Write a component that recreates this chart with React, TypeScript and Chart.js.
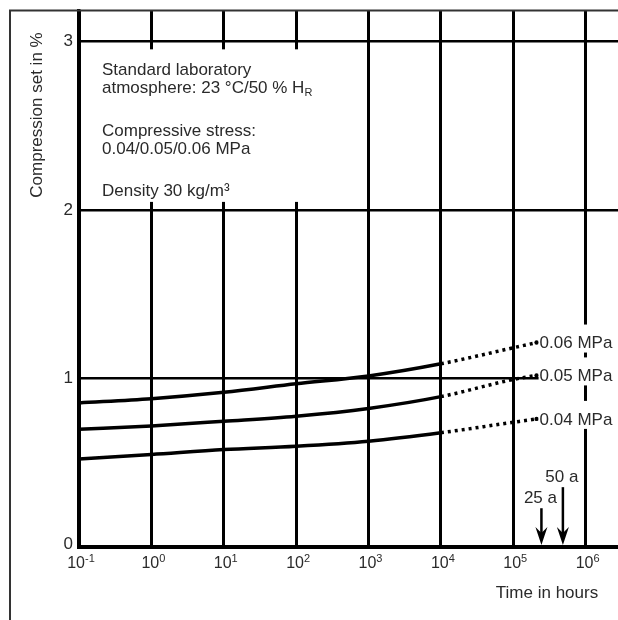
import React, { useEffect, useRef } from 'react';
import { Chart, registerables } from 'chart.js';

Chart.register(...registerables);

// ---- data ----
const hours = [0.1, 1, 10, 100, 1000, 10000, 100000, 210000];
const set006 = [0.855, 0.88, 0.918, 0.968, 1.015, 1.087, 1.182, 1.213];
const set005 = [0.698, 0.718, 0.746, 0.776, 0.822, 0.892, 0.994, 1.018];
const set004 = [0.522, 0.549, 0.578, 0.598, 0.628, 0.678, 0.74, 0.76];
const seriesLabels = ['0.06 MPa', '0.05 MPa', '0.04 MPa'];
const solidUntilHours = 10000;

const xTickValues = [0.1, 1, 10, 100, 1000, 10000, 100000, 1000000];
const xTickExponents = ['-1', '0', '1', '2', '3', '4', '5', '6'];
const yTickValues = [0, 1, 2, 3];
const yTickLabels = ['0', '1', '2', '3'];

const arrowLabels = ['25 a', '50 a'];
const arrowHours = [245000, 485000];
const arrowTops = [0.23, 0.355];

const infoLines = [
  'Standard laboratory',
  'atmosphere: 23 °C/50 % H',
  'Compressive stress:',
  '0.04/0.05/0.06 MPa',
  'Density 30 kg/m³',
];
const infoSubscript = 'R';
const yTitle = 'Compression set in %';
const xTitle = 'Time in hours';

const FONT = '"Liberation Sans", Arial, Helvetica, sans-serif';
const TEXT = '#2a2a2a';
const VIEW_W = 618;

const overlay = {
  id: 'overlay',
  afterDraw(chart: any) {
    const ctx: CanvasRenderingContext2D = chart.ctx;
    const xs = chart.scales.x;
    const ys = chart.scales.y;
    const area = chart.chartArea;
    ctx.save();

    // outer frame
    ctx.strokeStyle = '#333';
    ctx.lineWidth = 2;
    ctx.beginPath();
    ctx.moveTo(10, chart.height);
    ctx.lineTo(10, area.top - 0.5);
    ctx.lineTo(chart.width, area.top - 0.5);
    ctx.stroke();

    // info box (white background hiding the grid)
    const boxTop = ys.getPixelForValue(3) + 8;
    const boxBottom = ys.getPixelForValue(2) - 8;
    ctx.fillStyle = '#fff';
    ctx.fillRect(area.left + 2, boxTop, 262, boxBottom - boxTop);

    ctx.fillStyle = TEXT;
    ctx.textAlign = 'left';
    ctx.textBaseline = 'middle';
    const infoY = [70, 88, 131, 149, 191];
    const ix = area.left + 23;
    infoLines.forEach((t, i) => {
      ctx.font = `17px ${FONT}`;
      ctx.fillText(t, ix, infoY[i]);
      if (i === 1) {
        const w = ctx.measureText(t).width;
        ctx.font = `11px ${FONT}`;
        ctx.fillText(infoSubscript, ix + w, infoY[i] + 5);
      }
    });

    // y tick labels
    ctx.font = `17px ${FONT}`;
    ctx.textAlign = 'right';
    ctx.textBaseline = 'middle';
    yTickValues.forEach((v, i) => {
      const py = ys.getPixelForValue(v) - (v === 0 ? 3 : 0);
      ctx.fillText(yTickLabels[i], area.left - 6, py);
    });

    // x tick labels with superscript exponents
    ctx.textBaseline = 'alphabetic';
    ctx.textAlign = 'left';
    xTickValues.forEach((v, i) => {
      const px = xs.getPixelForValue(v);
      ctx.font = `16px ${FONT}`;
      const wBase = ctx.measureText('10').width;
      ctx.font = `11px ${FONT}`;
      const wExp = ctx.measureText(xTickExponents[i]).width;
      const start = px - (wBase + wExp) / 2 + 2;
      ctx.font = `16px ${FONT}`;
      ctx.fillText('10', start, area.bottom + 21);
      ctx.font = `11px ${FONT}`;
      ctx.fillText(xTickExponents[i], start + wBase, area.bottom + 15);
    });

    // axis titles
    ctx.font = `17px ${FONT}`;
    ctx.textAlign = 'center';
    ctx.textBaseline = 'middle';
    ctx.fillText(xTitle, 547, 593);
    ctx.save();
    ctx.translate(37, 115);
    ctx.rotate(-Math.PI / 2);
    ctx.fillText(yTitle, 0, 0);
    ctx.restore();

    // series labels at the end of each curve
    chart.data.datasets.forEach((ds: any, i: number) => {
      const meta = chart.getDatasetMeta(i);
      const last = meta.data[meta.data.length - 1];
      const lx = last.x + 3;
      const ly = last.y;
      ctx.fillStyle = '#fff';
      ctx.fillRect(lx - 1, ly - 18, chart.width - lx + 1, 28);
      ctx.fillStyle = TEXT;
      ctx.font = `17px ${FONT}`;
      ctx.textAlign = 'left';
      ctx.textBaseline = 'middle';
      ctx.fillText(seriesLabels[i], lx, ly + 1);
    });

    // arrows for 25 a / 50 a
    arrowHours.forEach((h, i) => {
      const x = xs.getPixelForValue(h);
      const yTop = ys.getPixelForValue(arrowTops[i]);
      const y0 = ys.getPixelForValue(0) - 2;
      ctx.strokeStyle = '#000';
      ctx.lineWidth = 2.5;
      ctx.beginPath();
      ctx.moveTo(x, yTop);
      ctx.lineTo(x, y0 - 10);
      ctx.stroke();
      ctx.fillStyle = '#000';
      ctx.beginPath();
      ctx.moveTo(x, y0);
      ctx.lineTo(x - 6, y0 - 18);
      ctx.lineTo(x, y0 - 12);
      ctx.lineTo(x + 6, y0 - 18);
      ctx.closePath();
      ctx.fill();
      ctx.fillStyle = TEXT;
      ctx.font = `17px ${FONT}`;
      ctx.textAlign = 'center';
      ctx.textBaseline = 'middle';
      ctx.fillText(arrowLabels[i], x - 1, yTop - 10);
    });

    ctx.restore();
  },
};

export default function App() {
  const ref = useRef<HTMLCanvasElement | null>(null);
  useEffect(() => {
    if (!ref.current) return;
    const series = [set006, set005, set004];
    const chart = new Chart(ref.current, {
      type: 'line',
      data: {
        datasets: series.map((vals, i) => ({
          label: seriesLabels[i],
          data: hours.map((h, j) => ({ x: h, y: vals[j] })),
          borderColor: '#000',
          borderWidth: 3.5,
          pointRadius: hours.map((_, j) => (j === hours.length - 1 ? 2.2 : 0)),
          pointBackgroundColor: '#000',
          pointBorderWidth: 0,
          tension: 0.4,
          cubicInterpolationMode: 'monotone',
          fill: false,
          segment: {
            borderDash: (c: any) => (c.p0.parsed.x >= solidUntilHours ? [3, 4] : undefined),
          },
        })),
      },
      options: {
        animation: false,
        responsive: false,
        events: [],
        layout: { padding: { left: 79, top: 11, right: 0, bottom: 73 } },
        plugins: { legend: { display: false }, tooltip: { enabled: false } },
        scales: {
          x: {
            type: 'logarithmic',
            min: 0.1,
            max: 2.8e6,
            bounds: 'data',
            afterBuildTicks: (s: any) => {
              s.ticks = xTickValues.map((v) => ({ value: v }));
            },
            ticks: { display: false },
            grid: { color: '#000', lineWidth: 3, drawTicks: false },
            border: { color: '#000', width: 4 },
          },
          y: {
            type: 'linear',
            min: 0,
            max: 3.18,
            afterBuildTicks: (s: any) => {
              s.ticks = yTickValues.map((v) => ({ value: v }));
            },
            ticks: { display: false },
            grid: { color: '#000', lineWidth: 2.5, drawTicks: false },
            border: { color: '#000', width: 3.5 },
          },
        },
      } as any,
      plugins: [overlay],
    });
    return () => chart.destroy();
  }, []);
  return (
    <div
      style={{
        position: 'absolute',
        left: 0,
        top: 0,
        width: VIEW_W,
        height: 620,
        overflow: 'hidden',
        background: '#fff',
      }}
    >
      <canvas ref={ref} width={VIEW_W + 4} height={620} style={{ display: 'block' }} />
    </div>
  );
}
